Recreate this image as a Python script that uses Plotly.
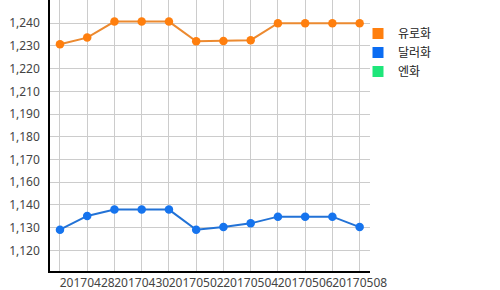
import plotly.graph_objects as go

dates = ["20170427", "20170428", "20170429", "20170430", "20170501", "20170502",
         "20170503", "20170504", "20170505", "20170506", "20170507", "20170508"]
eur = [1230.7, 1234.3, 1242.9, 1242.9, 1242.9, 1232.3, 1232.5, 1232.9, 1242.0, 1242.0, 1242.0, 1242.0]
usd = [1131.1, 1138.5, 1141.9, 1141.9, 1141.9, 1131.1, 1132.5, 1134.5, 1138.1, 1138.1, 1138.1, 1132.5]
series_names = ["유로화", "달러화", "엔화"]
legend_colors = ["#ff7f0e", "#0b6cf2", "#1ee67a"]

ytick_vals = [1120 + 12.2 * k for k in range(11)]
ytick_text = ["1,120", "1,130", "1,140", "1,160", "1,170", "1,180", "1,190",
              "1,210", "1,220", "1,230", "1,240"]
xtick_text = [d if i % 2 == 1 else "" for i, d in enumerate(dates)]

fig = go.Figure()
fig.add_trace(go.Scatter(x=dates, y=eur, mode="lines+markers", showlegend=False,
                         line=dict(color="#ec8a30", width=2),
                         marker=dict(color="#ff7f0e", size=8.5)))
fig.add_trace(go.Scatter(x=dates, y=usd, mode="lines+markers", showlegend=False,
                         line=dict(color="#2272d6", width=2),
                         marker=dict(color="#1674ee", size=8.5)))
for name, col in zip(series_names, legend_colors):
    fig.add_trace(go.Scatter(x=[None], y=[None], mode="markers", name=name,
                             marker=dict(symbol="square", color=col, size=11)))

fig.update_layout(
    width=500, height=290,
    margin=dict(l=50, r=130, t=0, b=19, autoexpand=False),
    paper_bgcolor="white", plot_bgcolor="white",
    font=dict(family="Noto Sans, Noto Sans CJK KR", size=12, color="#444"),
    legend=dict(xref="container", yref="container", x=358 / 500, y=1 - 19 / 290,
                xanchor="left", yanchor="top", bgcolor="rgba(0,0,0,0)",
                font=dict(family="Noto Sans CJK KR", size=12, color="#222"),
                itemwidth=30, tracegroupgap=0),
    xaxis=dict(type="category", range=[-0.366, 11.38], tickmode="array",
               tickvals=dates, ticktext=xtick_text, showgrid=True,
               gridcolor="#cccccc", gridwidth=1, showline=True, linecolor="black",
               linewidth=1.5, ticks="", zeroline=False, tickangle=0, automargin=False,
               tickfont=dict(size=12, color="#444")),
    yaxis=dict(range=[1108.9, 1254.5], tickmode="array", tickvals=ytick_vals,
               ticktext=ytick_text, showgrid=True, gridcolor="#cccccc", gridwidth=1,
               showline=True, linecolor="black", linewidth=1.5, ticks="",
               ticklabelstandoff=6, zeroline=False, automargin=False,
               tickfont=dict(size=12, color="#444")),
)

fig.write_html("out.html")
